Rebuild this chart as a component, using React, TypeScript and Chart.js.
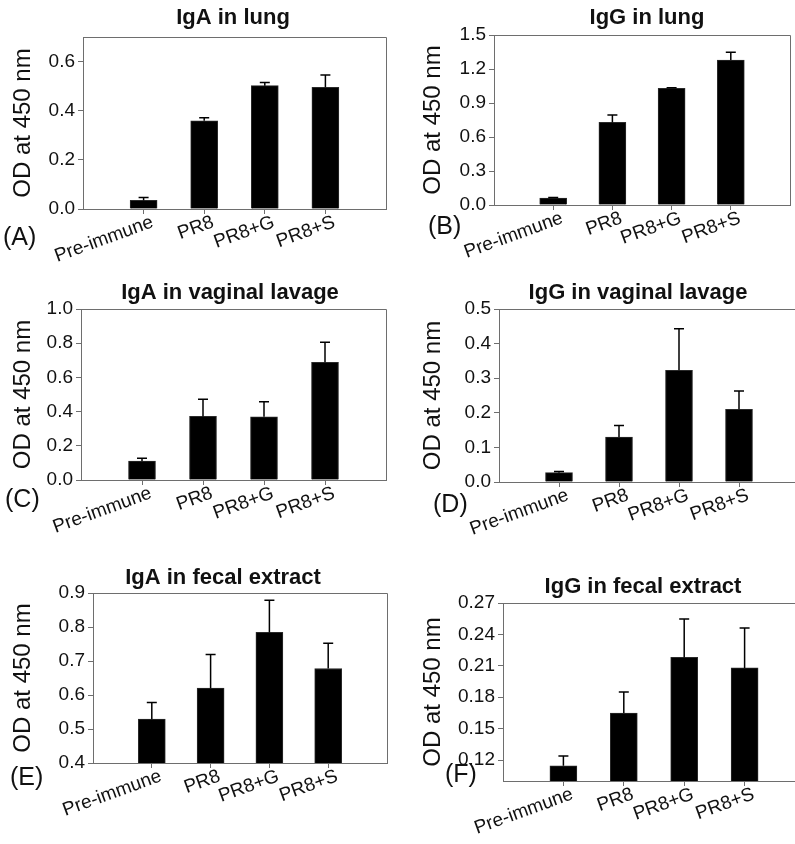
import React, { useEffect, useRef } from 'react';
import { Chart, registerables } from 'chart.js';

Chart.register(...registerables);

// ---------- data ----------
const categories = ['Pre-immune', 'PR8', 'PR8+G', 'PR8+S'];
const yAxisLabel = 'OD at 450 nm';

const igaLungMean = [0.035, 0.359, 0.502, 0.495];
const igaLungErr = [0.012, 0.012, 0.013, 0.05];
const igaLungTicks = [0.0, 0.2, 0.4, 0.6];

const iggLungMean = [0.062, 0.729, 1.029, 1.279];
const iggLungErr = [0.004, 0.065, 0.006, 0.068];
const iggLungTicks = [0.0, 0.3, 0.6, 0.9, 1.2, 1.5];

const igaVagMean = [0.111, 0.372, 0.37, 0.688];
const igaVagErr = [0.016, 0.1, 0.088, 0.117];
const igaVagTicks = [0.0, 0.2, 0.4, 0.6, 0.8, 1.0];

const iggVagMean = [0.027, 0.13, 0.323, 0.21];
const iggVagErr = [0.003, 0.033, 0.12, 0.053];
const iggVagTicks = [0.0, 0.1, 0.2, 0.3, 0.4, 0.5];

const igaFecalMean = [0.529, 0.62, 0.784, 0.678];
const igaFecalErr = [0.049, 0.099, 0.095, 0.074];
const igaFecalTicks = [0.4, 0.5, 0.6, 0.7, 0.8, 0.9];

const iggFecalMean = [0.1146, 0.1649, 0.218, 0.208];
const iggFecalErr = [0.0092, 0.02, 0.0367, 0.0382];
const iggFecalTicks = [0.12, 0.15, 0.18, 0.21, 0.24, 0.27];

// ---------- panel definitions ----------
type Panel = {
  title: string;
  letter: string;
  mean: number[];
  err: number[];
  ticks: number[];
  yMin: number;
  yMax: number;
  dec: number;
  // layout (canvas-relative)
  cx: number; cy: number; cw: number; ch: number;
  L: number; T: number; R: number; B: number;
  yTitleX: number;
  tx: number; ty: number;
  lx: number; ly: number;
};

const panels: Panel[] = [
  { title: 'IgA in lung', letter: '(A)', mean: igaLungMean, err: igaLungErr, ticks: igaLungTicks, yMin: 0, yMax: 0.7, dec: 1,
    cx: 0, cy: 0, cw: 400, ch: 280, L: 83, T: 37, R: 386, B: 209, yTitleX: 23, tx: 233, ty: 18, lx: 3, ly: 238 },
  { title: 'IgG in lung', letter: '(B)', mean: iggLungMean, err: iggLungErr, ticks: iggLungTicks, yMin: 0, yMax: 1.5, dec: 1,
    cx: 400, cy: 0, cw: 410, ch: 280, L: 94, T: 35, R: 390, B: 205, yTitleX: 33, tx: 247, ty: 18, lx: 28, ly: 227 },
  { title: 'IgA in vaginal lavage', letter: '(C)', mean: igaVagMean, err: igaVagErr, ticks: igaVagTicks, yMin: 0, yMax: 1.0, dec: 1,
    cx: 0, cy: 280, cw: 400, ch: 280, L: 81, T: 29, R: 386, B: 200, yTitleX: 23, tx: 230, ty: 13, lx: 5, ly: 220 },
  { title: 'IgG in vaginal lavage', letter: '(D)', mean: iggVagMean, err: iggVagErr, ticks: iggVagTicks, yMin: 0, yMax: 0.5, dec: 1,
    cx: 400, cy: 280, cw: 410, ch: 280, L: 99, T: 29, R: 399, B: 202, yTitleX: 33, tx: 238, ty: 13, lx: 33, ly: 225 },
  { title: 'IgA in fecal extract', letter: '(E)', mean: igaFecalMean, err: igaFecalErr, ticks: igaFecalTicks, yMin: 0.4, yMax: 0.9, dec: 1,
    cx: 0, cy: 560, cw: 400, ch: 284, L: 93, T: 33, R: 387, B: 203, yTitleX: 23, tx: 223, ty: 18, lx: 10, ly: 218 },
  { title: 'IgG in fecal extract', letter: '(F)', mean: iggFecalMean, err: iggFecalErr, ticks: iggFecalTicks, yMin: 0.1, yMax: 0.27, dec: 2,
    cx: 400, cy: 560, cw: 410, ch: 284, L: 103, T: 43, R: 405, B: 221, yTitleX: 33, tx: 243, ty: 27, lx: 45, ly: 215 },
];

const FONT = "'Liberation Sans', Arial, Helvetica, sans-serif";
const AXIS = '#6e6e6e';
const TEXT = '#111';
const Y_TITLE_SIZE = 24;

function PanelChart({ p }: { p: Panel }) {
  const ref = useRef<HTMLCanvasElement | null>(null);

  useEffect(() => {
    if (!ref.current) return;
    const labels = ['', ...categories, ''];
    const data = [null, ...p.mean, null];

    const decor = {
      id: 'decor',
      afterDatasetsDraw(chart: any) {
        const ctx = chart.ctx;
        const meta = chart.getDatasetMeta(0);
        const ys = chart.scales.y;
        ctx.save();
        ctx.strokeStyle = '#000';
        ctx.lineWidth = 1.5;
        meta.data.forEach((el: any, i: number) => {
          const k = i - 1;
          if (k < 0 || k >= p.mean.length) return;
          const x = el.x;
          const y0 = ys.getPixelForValue(p.mean[k]);
          const y1 = ys.getPixelForValue(p.mean[k] + p.err[k]);
          ctx.beginPath();
          ctx.moveTo(x, y0);
          ctx.lineTo(x, y1);
          ctx.moveTo(x - 5, y1);
          ctx.lineTo(x + 5, y1);
          ctx.stroke();
        });
        ctx.restore();
      },
      afterDraw(chart: any) {
        const ctx = chart.ctx;
        const a = chart.chartArea;
        ctx.save();
        ctx.strokeStyle = AXIS;
        ctx.lineWidth = 1;
        ctx.beginPath();
        ctx.moveTo(a.left, a.top + 0.5);
        ctx.lineTo(a.right + 0.5, a.top + 0.5);
        ctx.lineTo(a.right + 0.5, a.bottom);
        ctx.stroke();
        ctx.fillStyle = TEXT;
        ctx.font = `bold 22px ${FONT}`;
        ctx.textAlign = 'center';
        ctx.textBaseline = 'middle';
        ctx.fillText(p.title, p.tx, p.ty);
        ctx.font = `25px ${FONT}`;
        ctx.textAlign = 'left';
        ctx.fillText(p.letter, p.lx, p.ly);
        ctx.restore();
      },
    };

    const chart = new Chart(ref.current, {
      type: 'bar',
      data: {
        labels,
        datasets: [
          {
            data,
            backgroundColor: '#000',
            borderColor: '#2a2a2a',
            borderWidth: 1,
            barThickness: 27,
          } as any,
        ],
      },
      options: {
        responsive: false,
        animation: false,
        layout: { padding: { left: 0, top: p.T, right: p.cw - p.R, bottom: 0 } },
        plugins: {
          legend: { display: false },
          tooltip: { enabled: false },
          title: { display: false },
        },
        scales: {
          x: {
            type: 'category',
            offset: false,
            grid: {
              display: true,
              offset: false,
              drawOnChartArea: false,
              tickLength: 5,
              color: AXIS,
              tickColor: (c: any) => (c.index === 0 || c.index === 5 ? 'rgba(0,0,0,0)' : AXIS),
            } as any,
            border: { display: true, color: AXIS, width: 1 },
            ticks: {
              autoSkip: false,
              minRotation: 20,
              maxRotation: 20,
              labelOffset: 9,
              color: TEXT,
              padding: -3,
              font: { family: FONT, size: 19 },
            },
            afterFit: (s: any) => {
              s.height = p.ch - p.B;
            },
          } as any,
          y: {
            type: 'linear',
            min: p.yMin,
            max: p.yMax,
            afterBuildTicks: (s: any) => {
              s.ticks = p.ticks.map((v) => ({ value: v }));
            },
            grid: { display: true, drawOnChartArea: false, tickLength: 5, color: AXIS },
            border: { display: true, color: AXIS, width: 1 },
            ticks: {
              color: TEXT,
              padding: 3,
              font: { family: FONT, size: 19 },
              callback: (v: any) => Number(v).toFixed(p.dec),
            },
            title: {
              display: true,
              text: yAxisLabel,
              color: TEXT,
              font: { family: FONT, size: Y_TITLE_SIZE },
              padding: { top: p.yTitleX - (Y_TITLE_SIZE * 1.2) / 2, bottom: 0 },
            },
            afterFit: (s: any) => {
              s.width = p.L;
            },
          } as any,
        },
      },
      plugins: [decor],
    });
    return () => chart.destroy();
  }, [p]);

  return (
    <canvas
      ref={ref}
      width={p.cw}
      height={p.ch}
      style={{ position: 'absolute', left: p.cx, top: p.cy, width: p.cw, height: p.ch }}
    />
  );
}

export default function App() {
  return (
    <div
      style={{
        position: 'fixed',
        left: 0,
        top: 0,
        width: 795,
        height: 844,
        overflow: 'hidden',
        background: '#fff',
      }}
    >
      {panels.map((p, i) => (
        <PanelChart key={i} p={p} />
      ))}
    </div>
  );
}
